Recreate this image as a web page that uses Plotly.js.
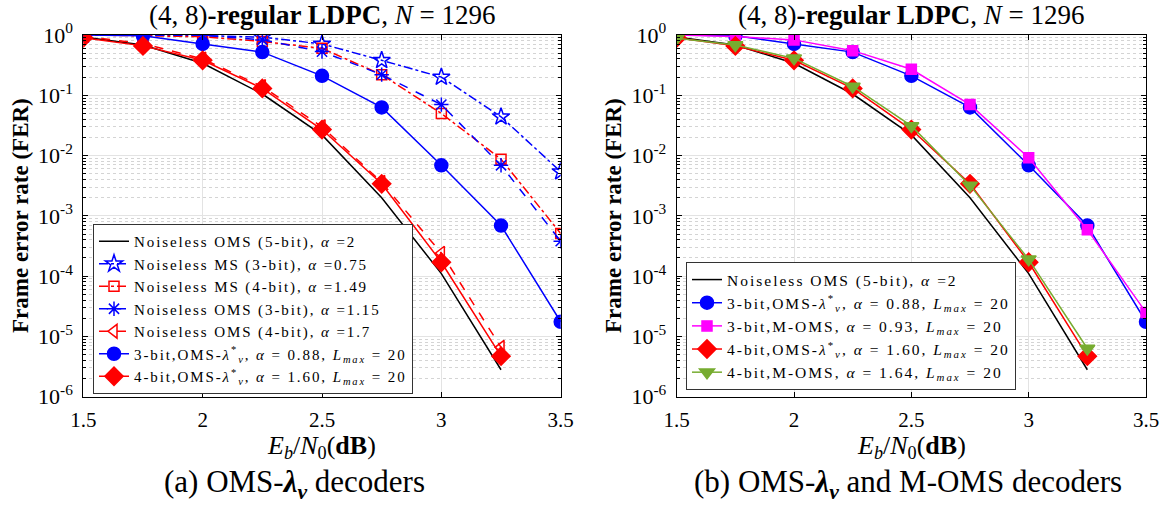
<!DOCTYPE html>
<html><head><meta charset="utf-8">
<script src="https://cdn.plot.ly/plotly-3.0.1.min.js"></script>
<style>html,body{margin:0;padding:0;background:#fff;}#chart{width:1176px;height:513px;}
.legendtext{letter-spacing:1.9px;}
.legend2text{letter-spacing:2px;}</style>
</head><body><div id="chart"></div>
<script>
// ---- data ----
const snr9 = [1.5, 1.75, 2, 2.25, 2.5, 2.75, 3, 3.25, 3.5];
const snr8 = [1.5, 1.75, 2, 2.25, 2.5, 2.75, 3, 3.25];
const ferOMS5 = [0.93, 0.68, 0.34, 0.105, 0.022, 0.002, 1.1e-4, 2.8e-6];
const ferMS3 = [1.0, 1.0, 0.98, 0.92, 0.71, 0.38, 0.2, 0.044, 0.0054];
const ferMS4 = [1.0, 0.98, 0.94, 0.78, 0.6, 0.22, 0.05, 0.0087, 5.1e-4];
const ferOMS3 = [1.0, 1.0, 0.99, 0.83, 0.53, 0.22, 0.07, 0.0069, 3.8e-4];
const ferOMS4 = [0.95, 0.72, 0.4, 0.14, 0.03, 0.0036, 2.4e-4, 6.6e-6];
const ferLam3 = [1.0, 0.97, 0.71, 0.52, 0.21, 0.063, 0.0069, 6.9e-4, 1.75e-5];
const ferLam4 = [0.9, 0.66, 0.38, 0.13, 0.027, 0.0034, 1.7e-4, 4.7e-6];
const ferMOMS3 = [1.0, 0.94, 0.83, 0.55, 0.27, 0.07, 0.0092, 5.9e-4, 2.5e-5];
const ferMOMS4 = [0.88, 0.68, 0.41, 0.14, 0.031, 0.0032, 1.9e-4, 6.3e-6];

const yTickVals = [1e-6, 1e-5, 1e-4, 1e-3, 1e-2, 1e-1, 1];
const yTickText = ['10<sup>-6</sup>', '10<sup>-5</sup>', '10<sup>-4</sup>', '10<sup>-3</sup>', '10<sup>-2</sup>', '10<sup>-1</sup>', '10<sup>0</sup>'];
const xTickVals = [1.5, 2, 2.5, 3, 3.5];
const xTickText = ['1.5', '2', '2.5', '3', '3.5'];

const nameOMS5 = 'Noiseless OMS (5-bit), <i>α</i> =2';
const nameMS3 = 'Noiseless MS (3-bit), <i>α</i> =0.75';
const nameMS4 = 'Noiseless MS (4-bit), <i>α</i> =1.49';
const nameOMS3 = 'Noiseless OMS (3-bit), <i>α</i> =1.15';
const nameOMS4 = 'Noiseless OMS (4-bit), <i>α</i> =1.7';
const nameLam3 = '3-bit,OMS-<i>λ</i><sup>*</sup><sub><i>v</i></sub>, <i>α</i> = 0.88, <i>L</i><sub><i>max</i></sub> = 20';
const nameLam4 = '4-bit,OMS-<i>λ</i><sup>*</sup><sub><i>v</i></sub>, <i>α</i> = 1.60, <i>L</i><sub><i>max</i></sub> = 20';
const nameMOMS3 = '3-bit,M-OMS, <i>α</i> = 0.93, <i>L</i><sub><i>max</i></sub> = 20';
const nameMOMS4 = '4-bit,M-OMS, <i>α</i> = 1.64, <i>L</i><sub><i>max</i></sub> = 20';

const BLUE = '#0000ff', RED = '#ff0000', MAG = '#ff00ff', GRN = '#77ac30';
const FONT = 'Liberation Serif';

// minor grid positions (2..9 within each decade)
const yMinorVals = [];
for (let d = -6; d < 0; d++) for (let k = 2; k <= 9; k++) yMinorVals.push(k * Math.pow(10, d));

function tr(x, y, name, color, dash, symbol, msize, xa, ya, leg) {
  const t = {
    x: x, y: y, name: name, type: 'scatter',
    mode: symbol ? 'lines+markers' : 'lines',
    line: {color: color, width: 1.5, dash: dash},
    xaxis: xa, yaxis: ya, legend: leg
  };
  if (symbol) t.marker = {symbol: symbol, size: msize, color: color, line: {color: color, width: 1.5}};
  return t;
}

const traces = [
  tr(snr8, ferOMS5, nameOMS5, '#000000', 'solid', null, 0, 'x', 'y', 'legend'),
  tr(snr9, ferMS3, nameMS3, BLUE, 'dashdot', 'star-open', 13, 'x', 'y', 'legend'),
  tr(snr9, ferMS4, nameMS4, RED, 'dashdot', 'square-open', 10, 'x', 'y', 'legend'),
  tr(snr9, ferOMS3, nameOMS3, BLUE, 'dash', 'asterisk-open', 12, 'x', 'y', 'legend'),
  tr(snr8, ferOMS4, nameOMS4, RED, 'dash', 'triangle-left-open', 12, 'x', 'y', 'legend'),
  tr(snr9, ferLam3, nameLam3, BLUE, 'solid', 'circle', 13, 'x', 'y', 'legend'),
  tr(snr8, ferLam4, nameLam4, RED, 'solid', 'diamond', 14, 'x', 'y', 'legend'),

  tr(snr8, ferOMS5, nameOMS5, '#000000', 'solid', null, 0, 'x2', 'y2', 'legend2'),
  tr(snr9, ferLam3, nameLam3, BLUE, 'solid', 'circle', 13, 'x2', 'y2', 'legend2'),
  tr(snr9, ferMOMS3, nameMOMS3, MAG, 'solid', 'square', 10, 'x2', 'y2', 'legend2'),
  tr(snr8, ferLam4, nameLam4, RED, 'solid', 'diamond', 14, 'x2', 'y2', 'legend2'),
  tr(snr8, ferMOMS4, nameMOMS4, GRN, 'solid', 'triangle-down', 13, 'x2', 'y2', 'legend2')
];

const W = 1176, H = 513;
const px = v => v / W, py = v => 1 - v / H;

function xax(dom, anchor) {
  return {
    domain: dom, anchor: anchor, range: [1.5, 3.5],
    tickmode: 'array', tickvals: xTickVals, ticktext: xTickText,
    showline: true, linecolor: '#000', linewidth: 1, mirror: 'ticks',
    ticks: 'inside', ticklen: 5, tickcolor: '#000',
    showgrid: true, gridcolor: '#e3e3e3', gridwidth: 1, zeroline: false,
    tickfont: {family: FONT, size: 21, color: '#000'},
    ticklabelstandoff: 4, automargin: false
  };
}
function yax(anchor) {
  return {
    type: 'log', range: [-6, 0], domain: [py(396.7), py(35)], anchor: anchor,
    tickmode: 'array', tickvals: yTickVals, ticktext: yTickText,
    showline: true, linecolor: '#000', linewidth: 1, mirror: 'ticks',
    ticks: 'inside', ticklen: 5, tickcolor: '#000',
    showgrid: true, gridcolor: '#e3e3e3', gridwidth: 1, zeroline: false,
    minor: {tickmode: 'array', tickvals: yMinorVals, ticks: 'inside', ticklen: 3, tickcolor: '#000',
            showgrid: true, gridcolor: '#d4d4d4', griddash: 'dot', gridwidth: 1},
    tickfont: {family: FONT, size: 22, color: '#000'},
    ticklabelstandoff: 5, automargin: false
  };
}

const legendCommon = {
  bgcolor: '#ffffff', bordercolor: '#333333', borderwidth: 1,
  xanchor: 'left', yanchor: 'top', tracegroupgap: 0, itemwidth: 30
};

const ann = (x, y, text, size, extra) => Object.assign({
  xref: 'paper', yref: 'paper', x: px(x), y: py(y), text: text, showarrow: false,
  xanchor: 'center', yanchor: 'middle', font: {family: FONT, size: size, color: '#000'}
}, extra || {});

const titleTxt = '(4, 8)<b>-regular LDPC</b>, <i>N</i> = 1296';
const xTitle = '<i>E</i><sub><i>b</i></sub>/<i>N</i><sub>0</sub>(<b>dB</b>)';
const yTitle = '<b>Frame error rate (FER)</b>';

const layout = {
  width: W, height: H, margin: {l: 0, r: 0, t: 0, b: 0},
  paper_bgcolor: '#fff', plot_bgcolor: '#fff',
  xaxis: xax([px(83.3), px(560.7)], 'y'), yaxis: yax('x'),
  xaxis2: xax([px(676.7), px(1146)], 'y2'), yaxis2: yax('x2'),
  legend: Object.assign({x: px(93), y: py(224), font: {family: FONT, size: 15, color: '#000'}}, legendCommon),
  legend2: Object.assign({x: px(686), y: py(262), font: {family: FONT, size: 15.5, color: '#000'}}, legendCommon),
  annotations: [
    ann(322, 15, titleTxt, 27),
    ann(911, 15, titleTxt, 27),
    ann(321, 447, xTitle, 26),
    ann(911, 447, xTitle, 26),
    ann(20, 216, yTitle, 23, {textangle: -90}),
    ann(613, 216, yTitle, 23, {textangle: -90}),
    ann(294, 484, '(a) OMS-<b><i>λ</i><sub><i>v</i></sub></b> decoders', 31),
    ann(908, 484, '(b) OMS-<b><i>λ</i><sub><i>v</i></sub></b> and M-OMS decoders', 31)
  ],
  showlegend: true
};

Plotly.newPlot('chart', traces, layout, {staticPlot: true, displayModeBar: false});
</script></body></html>
